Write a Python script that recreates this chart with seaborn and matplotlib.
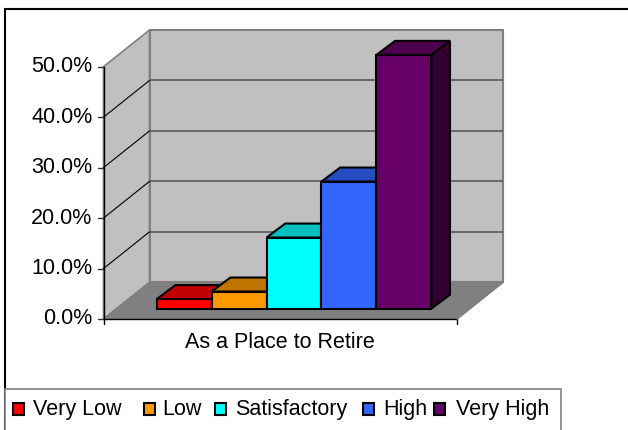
#!/usr/bin/env python3
"""Excel style 3D column chart: As a Place to Retire"""

import matplotlib
matplotlib.use('Agg')
import matplotlib.colors as mcolors
import matplotlib.pyplot as plt
from matplotlib.patches import Polygon, Rectangle
import pandas as pd
import seaborn as sns

# Data
group = 'As a Place to Retire'
ratings = ['Very Low', 'Low', 'Satisfactory', 'High', 'Very High']
percents = [1.9, 3.4, 14.1, 25.2, 50.3]
bar_colors = ['#FF0000', '#FF9900', '#00FFFF', '#3366FF', '#660066']
y_ticks = [0, 10, 20, 30, 40, 50]

W, H = 628, 430
FRONT_L, FRONT_R, FRONT_BOTTOM, FRONT_TOP = 103.5, 457.0, 319.0, 66.7
DEPTH_X, DEPTH_Y = 46.0, 36.7
BAR_L, BAR_R, BAR_BOTTOM = 156.7, 431.3, 308.7
BAR_DX, BAR_DY = 18.7, 14.0
PX_PER_PCT = (FRONT_BOTTOM - FRONT_TOP) / 50
LEGEND_MARK_X = [13, 144, 215, 363, 434]
LEGEND_TEXT_X = [33, 162, 235, 383, 456]

sns.set_theme(style='white')
plt.rcParams['font.family'] = ['Liberation Sans', 'DejaVu Sans']
FONT = 15.5

df = pd.DataFrame({'group': [group] * len(ratings), 'rating': ratings, 'percent': percents})

fig = plt.figure(figsize=(W / 100, H / 100), dpi=100, facecolor='white')

# Background axes in pixel coordinates, for the chart frame and the 3D walls
bg = fig.add_axes([0, 0, 1, 1])
bg.set_xlim(0, W)
bg.set_ylim(H, 0)
bg.axis('off')

bg.add_patch(Rectangle((5, 9), W + 10, H + 10, fc='white', ec='black', lw=1.5))

# side wall, back wall, floor
back_l = FRONT_L + DEPTH_X
back_r = FRONT_R + DEPTH_X
back_bottom = FRONT_BOTTOM - DEPTH_Y
back_top = FRONT_TOP - DEPTH_Y
bg.add_patch(Polygon([(FRONT_L, FRONT_BOTTOM), (back_l, back_bottom), (back_l, back_top), (FRONT_L, FRONT_TOP)],
                     fc='#C0C0C0', ec='#808080', lw=1.2))
bg.add_patch(Rectangle((back_l, back_top), back_r - back_l, back_bottom - back_top,
                       fc='#C0C0C0', ec='#808080', lw=1.5))
bg.add_patch(Polygon([(FRONT_L, FRONT_BOTTOM), (FRONT_R, FRONT_BOTTOM), (back_r, back_bottom), (back_l, back_bottom)],
                     fc='#808080', ec='#808080', lw=1))

# gridlines on the walls and ticks on the front axis
for t in y_ticks:
    y_front = FRONT_BOTTOM - t * PX_PER_PCT
    y_back = y_front - DEPTH_Y
    if 0 < t < y_ticks[-1]:
        bg.plot([back_l, back_r], [y_back, y_back], color='#595959', lw=1.2, solid_capstyle='butt')
        bg.plot([FRONT_L, back_l], [y_front, y_back], color='black', lw=0.8)
    bg.plot([FRONT_L - 6, FRONT_L], [y_front, y_front], color='#303030', lw=1)
    bg.text(FRONT_L - 11, y_front, f'{t:.1f}%', ha='right', va='center', fontsize=FONT, color='black')

bg.plot([FRONT_L, FRONT_L], [FRONT_BOTTOM + 5, FRONT_TOP], color='black', lw=1)
bg.plot([FRONT_L, FRONT_R], [FRONT_BOTTOM, FRONT_BOTTOM], color='black', lw=1)
bg.plot([FRONT_R, FRONT_R], [FRONT_BOTTOM, FRONT_BOTTOM + 5], color='black', lw=1)
bg.plot([FRONT_R, back_r], [FRONT_BOTTOM, back_bottom], color='#808080', lw=1)
bg.text((FRONT_L + FRONT_R) / 2 - 0.5, 343, group, ha='center', va='center', fontsize=FONT, color='black')

# Bars, on a transparent axes sitting on the floor
ax = fig.add_axes([BAR_L / W, 1 - BAR_BOTTOM / H, (BAR_R - BAR_L) / W, 50 * PX_PER_PCT / H])
ax.patch.set_alpha(0)
sns.barplot(data=df, x='group', y='percent', hue='rating', hue_order=ratings, palette=bar_colors,
            width=1, gap=0, saturation=1, edgecolor='black', linewidth=1.5, legend=False, ax=ax)
ax.set_xlim(-0.5, 0.5)
ax.set_ylim(0, 50)
ax.axis('off')

to_px = ax.transData + bg.transData.inverted()
for bar in ax.patches:
    bar.set_zorder(4)
    bar.set_clip_on(False)
    color = mcolors.to_rgb(bar.get_facecolor())
    x0, y0 = bar.get_x(), bar.get_y()
    (xl, yb), (xr, yt) = to_px.transform([(x0, y0), (x0 + bar.get_width(), y0 + bar.get_height())])
    top_color = tuple(c * 0.75 for c in color)
    side_color = tuple(c * 0.5 for c in color)
    top = Polygon([(xl, yt), (xr, yt), (xr + BAR_DX, yt - BAR_DY), (xl + BAR_DX, yt - BAR_DY)],
                  fc=top_color, ec='black', lw=1.5, transform=bg.transData, clip_on=False, zorder=2)
    side = Polygon([(xr, yb), (xr + BAR_DX, yb - BAR_DY), (xr + BAR_DX, yt - BAR_DY), (xr, yt)],
                   fc=side_color, ec='black', lw=1.5, transform=bg.transData, clip_on=False, zorder=2)
    ax.add_patch(top)
    ax.add_patch(side)

# Legend box along the bottom, running off the canvas
bg.add_patch(Rectangle((5, 388.7), 556, H, fc='white', ec='#808080', lw=1.2))
for label, c, mx, tx in zip(ratings, bar_colors, LEGEND_MARK_X, LEGEND_TEXT_X):
    bg.add_patch(Rectangle((mx, 403), 11, 12, fc=c, ec='black', lw=1.5))
    bg.text(tx, 415, label, ha='left', va='baseline', fontsize=FONT, color='black')

plt.savefig('out.png', dpi=100)
plt.close()
